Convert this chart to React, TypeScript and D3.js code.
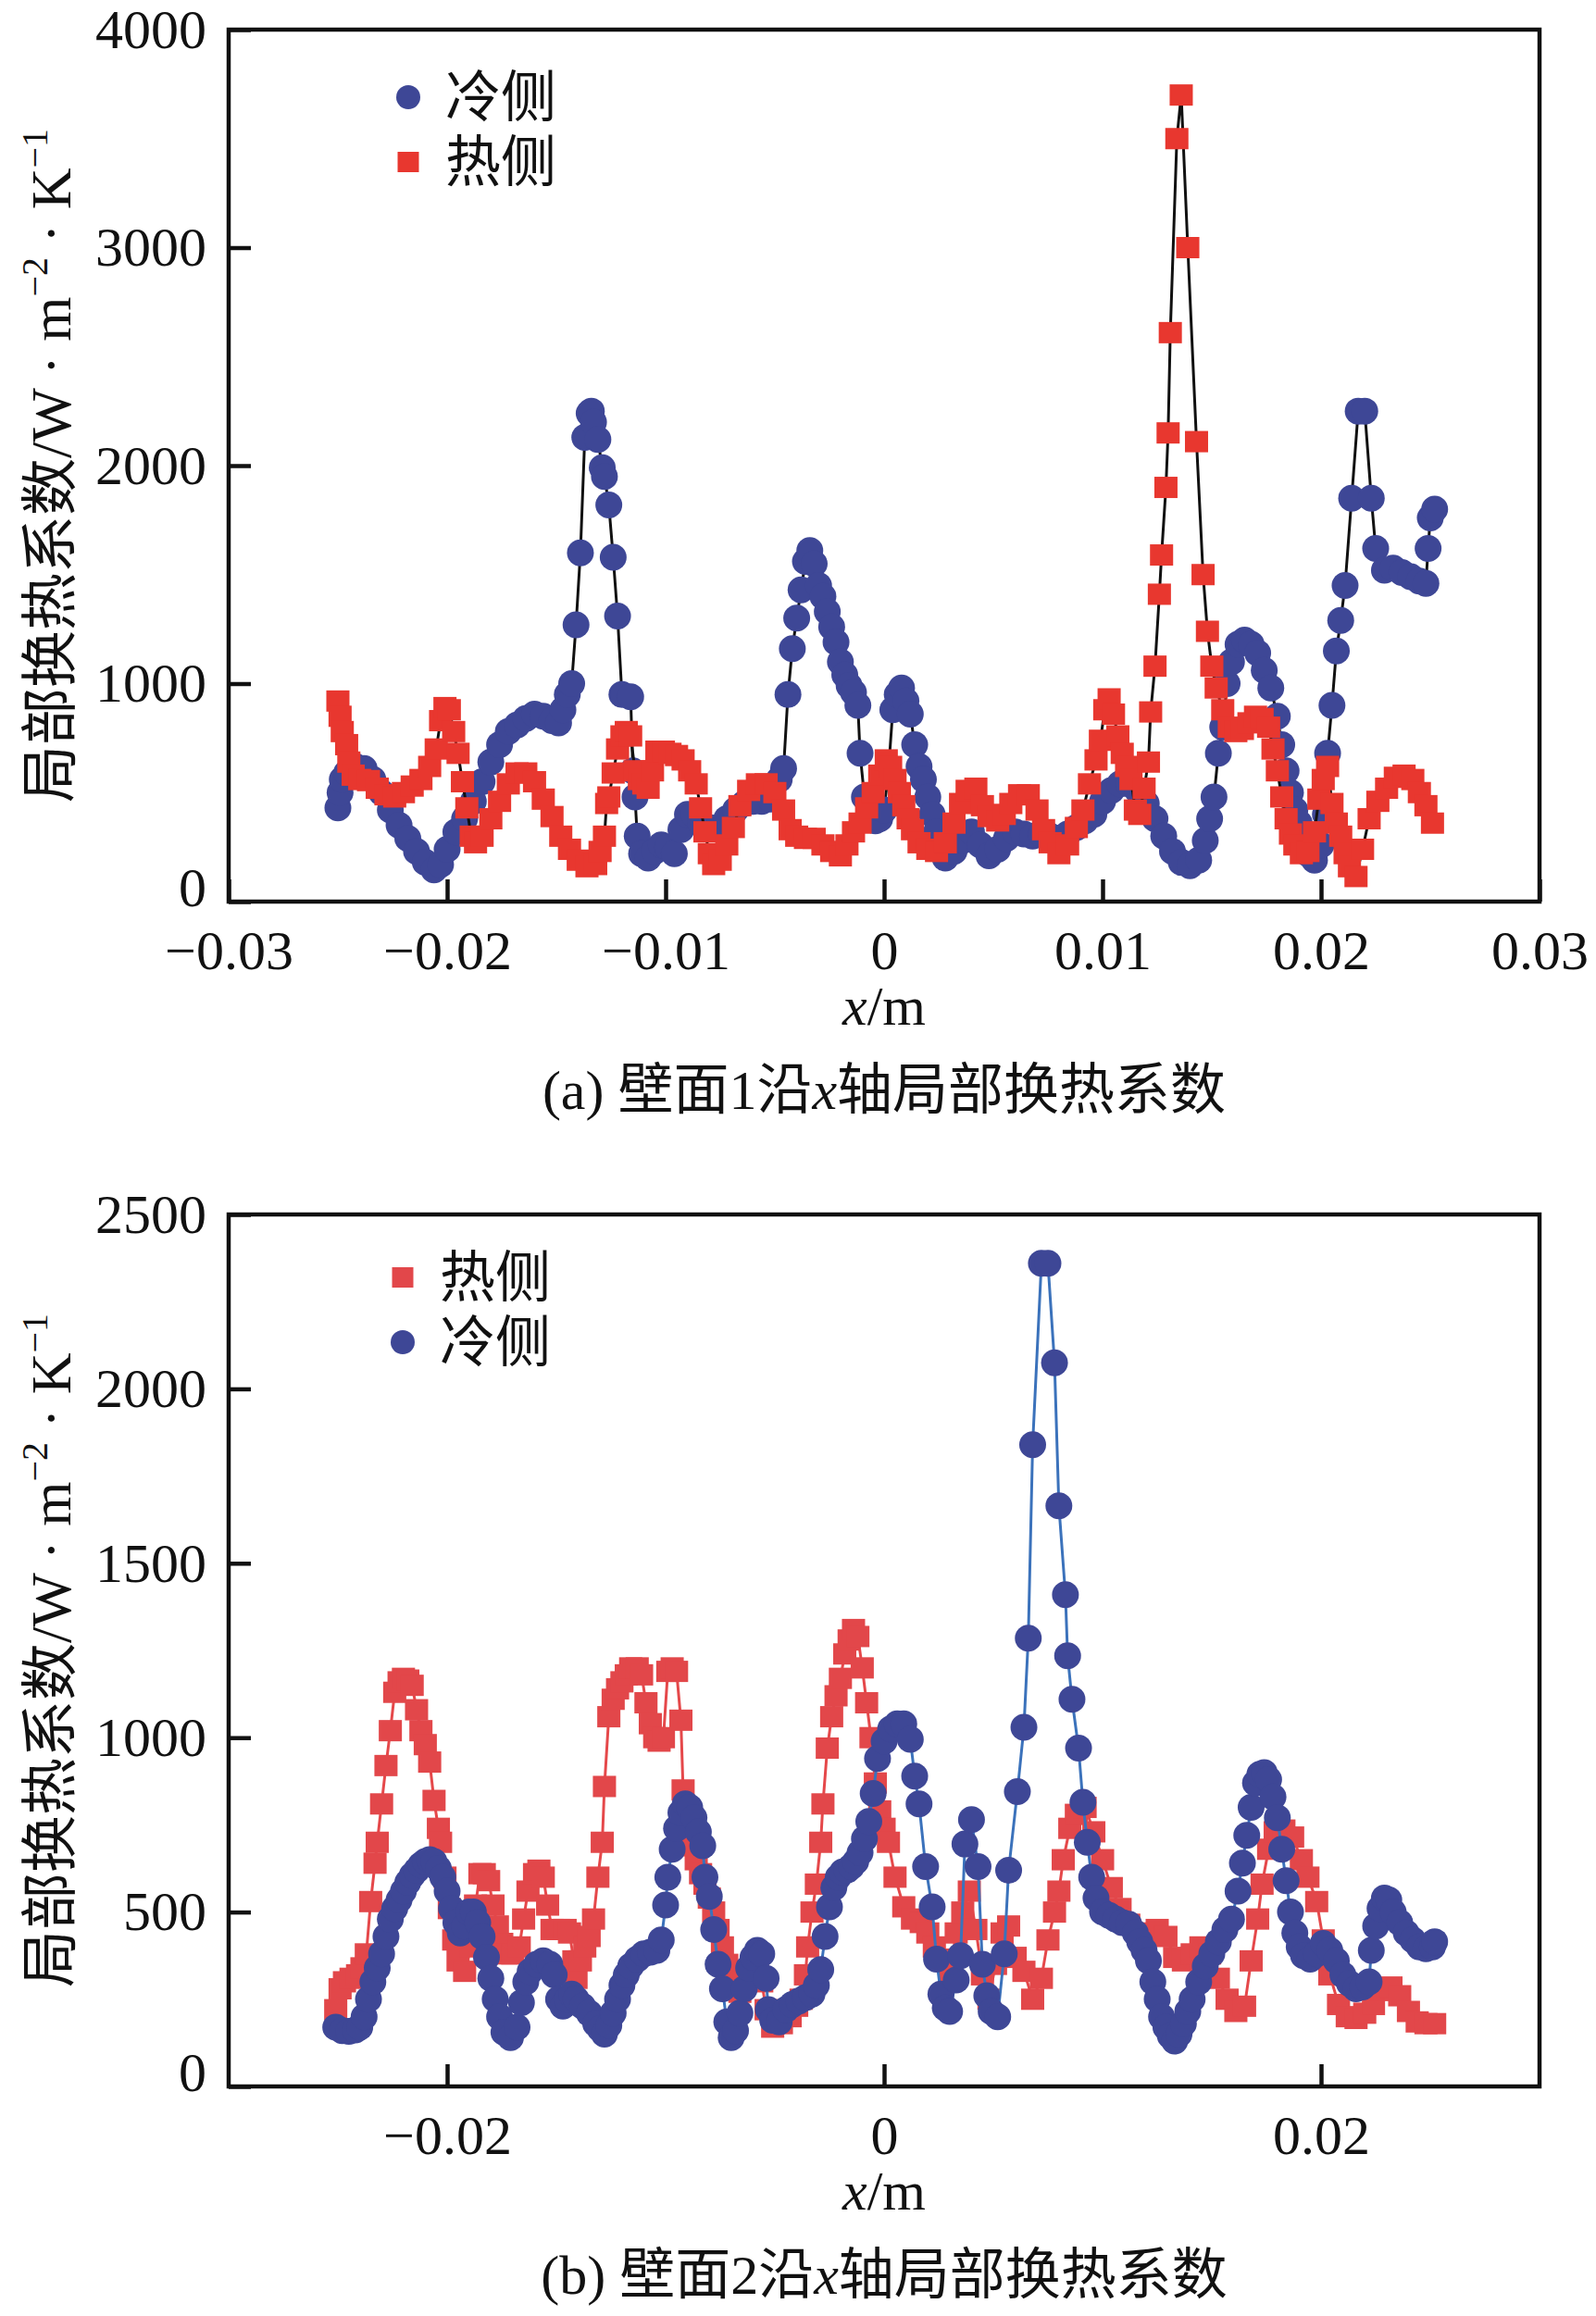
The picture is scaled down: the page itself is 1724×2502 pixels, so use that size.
import { useEffect, useRef } from 'react';
import * as d3 from 'd3';

type Pt = [number, number];

// (a) 壁面1 — 冷侧 (x/m, h/W·m⁻²·K⁻¹)
const wall1Cold: Pt[] = [
  [-0.025, 430], [-0.0249, 500], [-0.0248, 560], [-0.0246, 590], [-0.0242, 620], [-0.0238, 610],
  [-0.0234, 560], [-0.023, 500], [-0.0226, 420], [-0.0222, 350], [-0.0218, 290], [-0.0214, 230],
  [-0.021, 180], [-0.0206, 145], [-0.0203, 170], [-0.02, 240], [-0.0196, 320], [-0.0192, 380],
  [-0.0188, 460], [-0.0184, 550], [-0.018, 640], [-0.0176, 720], [-0.0172, 780], [-0.0168, 810],
  [-0.0164, 840], [-0.016, 860], [-0.0156, 850], [-0.0152, 830], [-0.0149, 820], [-0.0147, 880],
  [-0.0145, 950], [-0.0143, 1000], [-0.0141, 1270], [-0.0139, 1600], [-0.0137, 2130], [-0.0135, 2240],
  [-0.0134, 2250], [-0.0133, 2200], [-0.0131, 2120], [-0.0129, 1990], [-0.0128, 1950], [-0.0126, 1820],
  [-0.0124, 1580], [-0.0122, 1310], [-0.012, 950], [-0.0116, 940], [-0.0115, 600], [-0.0114, 480],
  [-0.0113, 300], [-0.0111, 220], [-0.0108, 200], [-0.0105, 230], [-0.0102, 260], [-0.0099, 250],
  [-0.0096, 220], [-0.0093, 330], [-0.009, 400], [-0.0087, 400], [-0.0084, 360], [-0.008, 340],
  [-0.0076, 340], [-0.0072, 380], [-0.0068, 420], [-0.0064, 450], [-0.006, 460], [-0.0056, 460],
  [-0.0052, 470], [-0.0048, 560], [-0.0046, 610], [-0.0044, 950], [-0.0042, 1160], [-0.004, 1300],
  [-0.0038, 1430], [-0.0036, 1560], [-0.0034, 1610], [-0.0032, 1550], [-0.003, 1450], [-0.0028, 1400],
  [-0.0026, 1330], [-0.0024, 1260], [-0.0022, 1190], [-0.002, 1100], [-0.0018, 1040], [-0.0016, 990],
  [-0.0014, 960], [-0.0012, 900], [-0.0011, 680], [-0.0009, 480], [-0.0007, 400], [-0.0004, 370],
  [-0.0002, 380], [0, 420], [0.0002, 600], [0.0004, 880], [0.0006, 950], [0.0008, 980],
  [0.001, 920], [0.0012, 860], [0.0014, 720], [0.0016, 620], [0.0018, 560], [0.002, 480],
  [0.0022, 400], [0.0024, 320], [0.0026, 240], [0.0028, 200], [0.0032, 230], [0.0036, 280],
  [0.004, 320], [0.0044, 260], [0.0048, 210], [0.0052, 240], [0.0056, 290], [0.006, 320],
  [0.0064, 310], [0.0068, 300], [0.0072, 310], [0.0076, 300], [0.008, 290], [0.0084, 310],
  [0.0088, 340], [0.0092, 370], [0.0096, 400], [0.01, 460], [0.0104, 510], [0.0108, 540],
  [0.0112, 540], [0.0116, 510], [0.012, 450], [0.0124, 380], [0.0128, 300], [0.0132, 230],
  [0.0136, 180], [0.014, 165], [0.0144, 190], [0.0147, 280], [0.0149, 380], [0.0151, 480],
  [0.0153, 680], [0.0155, 800], [0.0157, 1000], [0.0159, 1100], [0.0162, 1180], [0.0165, 1200],
  [0.0168, 1180], [0.0171, 1140], [0.0174, 1060], [0.0177, 980], [0.018, 850], [0.0182, 720],
  [0.0184, 600], [0.0186, 500], [0.0188, 420], [0.019, 360], [0.0192, 280], [0.0194, 220],
  [0.0197, 190], [0.02, 260], [0.0202, 400], [0.0203, 680], [0.0205, 900], [0.0207, 1150],
  [0.0209, 1290], [0.0211, 1450], [0.0214, 1850], [0.0217, 2250], [0.022, 2250], [0.0223, 1850],
  [0.0225, 1620], [0.0229, 1520], [0.0233, 1530], [0.0237, 1510], [0.0241, 1490], [0.0245, 1470],
  [0.0248, 1460], [0.0249, 1620], [0.025, 1760], [0.0252, 1800],
];

// (a) 壁面1 — 热侧
const wall1Hot: Pt[] = [
  [-0.025, 920], [-0.0249, 850], [-0.0248, 780], [-0.0246, 720], [-0.0245, 640], [-0.0243, 580],
  [-0.024, 560], [-0.0236, 555], [-0.0232, 520], [-0.0228, 490], [-0.0224, 480], [-0.022, 500],
  [-0.0216, 530], [-0.0212, 560], [-0.0208, 620], [-0.0205, 700], [-0.0203, 830], [-0.0201, 890],
  [-0.0199, 880], [-0.0197, 780], [-0.0195, 680], [-0.0193, 550], [-0.0191, 430], [-0.0189, 300],
  [-0.0187, 270], [-0.0184, 300], [-0.018, 380], [-0.0176, 460], [-0.0172, 540], [-0.0168, 590],
  [-0.0164, 590], [-0.016, 550], [-0.0156, 470], [-0.0152, 390], [-0.0148, 300], [-0.0144, 240],
  [-0.014, 190], [-0.0136, 160], [-0.0132, 170], [-0.013, 230], [-0.0128, 300], [-0.0127, 450],
  [-0.0126, 480], [-0.0124, 590], [-0.0122, 700], [-0.012, 760], [-0.0118, 780], [-0.0116, 760],
  [-0.0114, 600], [-0.0112, 560], [-0.011, 540], [-0.0108, 520], [-0.0106, 600], [-0.0104, 690],
  [-0.0101, 690], [-0.0098, 680], [-0.0095, 670], [-0.0092, 650], [-0.0089, 600], [-0.0086, 540],
  [-0.0084, 430], [-0.0082, 320], [-0.008, 220], [-0.0078, 170], [-0.0075, 190], [-0.0072, 260],
  [-0.0069, 340], [-0.0066, 440], [-0.0062, 510], [-0.0058, 540], [-0.0054, 540], [-0.005, 500],
  [-0.0046, 420], [-0.0043, 330], [-0.004, 300], [-0.0036, 290], [-0.0032, 290], [-0.0028, 260],
  [-0.0024, 230], [-0.002, 210], [-0.0017, 260], [-0.0014, 320], [-0.0011, 360], [-0.0008, 430],
  [-0.0005, 500], [-0.0002, 580], [0.0001, 650], [0.0003, 620], [0.0005, 560], [0.0007, 500],
  [0.0009, 440], [0.0011, 380], [0.0013, 330], [0.0016, 270], [0.002, 240], [0.0024, 230],
  [0.0028, 270], [0.0032, 360], [0.0035, 450], [0.0038, 510], [0.0042, 520], [0.0045, 440],
  [0.0048, 390], [0.0052, 370], [0.0055, 400], [0.0058, 450], [0.0062, 490], [0.0066, 490],
  [0.007, 420], [0.0073, 330], [0.0076, 270], [0.008, 220], [0.0084, 260], [0.0088, 340],
  [0.0091, 420], [0.0094, 540], [0.0097, 650], [0.0099, 740], [0.0101, 880], [0.0103, 930],
  [0.0105, 860], [0.0107, 760], [0.0109, 680], [0.0111, 620], [0.0113, 560], [0.0115, 420],
  [0.0117, 400], [0.0119, 520], [0.0121, 640], [0.0122, 870], [0.0124, 1080], [0.0126, 1410],
  [0.0127, 1590], [0.0129, 1900], [0.013, 2150], [0.0131, 2610], [0.0134, 3500], [0.0136, 3700],
  [0.0139, 3000], [0.0143, 2110], [0.0146, 1500], [0.0148, 1240], [0.015, 1080], [0.0152, 980],
  [0.0155, 880], [0.0158, 800], [0.0161, 780], [0.0164, 790], [0.0167, 820], [0.017, 850],
  [0.0173, 840], [0.0176, 800], [0.0178, 700], [0.018, 600], [0.0182, 480], [0.0184, 380],
  [0.0186, 310], [0.0188, 260], [0.0191, 220], [0.0194, 230], [0.0197, 320], [0.0199, 470],
  [0.0201, 560], [0.0203, 620], [0.0205, 450], [0.0207, 360], [0.0209, 300], [0.0211, 220],
  [0.0213, 160], [0.0216, 115], [0.0219, 240], [0.0222, 380], [0.0226, 460], [0.023, 520],
  [0.0234, 570], [0.0238, 580], [0.0242, 560], [0.0245, 500], [0.0248, 440], [0.0251, 360],
];

// (b) 壁面2 — 热侧
const wall2Hot: Pt[] = [
  [-0.0251, 220], [-0.0249, 280], [-0.0247, 300], [-0.0244, 310], [-0.0241, 320], [-0.0239, 340],
  [-0.0237, 380], [-0.0235, 530], [-0.0233, 640], [-0.0232, 700], [-0.023, 810], [-0.0228, 920],
  [-0.0226, 1020], [-0.0224, 1130], [-0.0222, 1160], [-0.022, 1170], [-0.0218, 1165], [-0.0216, 1150],
  [-0.0214, 1080], [-0.0212, 1020], [-0.021, 980], [-0.0208, 930], [-0.0206, 820], [-0.0204, 740],
  [-0.0203, 700], [-0.0201, 600], [-0.0199, 510], [-0.0197, 420], [-0.0195, 360], [-0.0192, 330],
  [-0.0189, 400], [-0.0187, 520], [-0.0185, 610], [-0.0183, 610], [-0.0181, 590], [-0.0179, 520],
  [-0.0177, 460], [-0.0175, 410], [-0.0173, 380], [-0.017, 380], [-0.0167, 400], [-0.0165, 480],
  [-0.0163, 560], [-0.016, 610], [-0.0158, 620], [-0.0156, 600], [-0.0154, 520], [-0.0152, 450],
  [-0.0149, 450], [-0.0146, 450], [-0.0144, 440], [-0.0142, 360], [-0.0141, 310], [-0.0139, 360],
  [-0.0137, 400], [-0.0135, 430], [-0.0133, 480], [-0.0131, 600], [-0.0129, 700], [-0.0128, 860],
  [-0.0126, 1060], [-0.0124, 1110], [-0.0122, 1140], [-0.012, 1160], [-0.0118, 1180], [-0.0116, 1200],
  [-0.0113, 1200], [-0.0111, 1180], [-0.0109, 1100], [-0.0107, 1040], [-0.0105, 1000], [-0.0103, 990],
  [-0.0101, 1000], [-0.0099, 1190], [-0.0097, 1200], [-0.0095, 1190], [-0.0093, 1050], [-0.0092, 850],
  [-0.009, 730], [-0.0088, 690], [-0.0086, 650], [-0.0084, 610], [-0.0082, 580], [-0.008, 540],
  [-0.0078, 500], [-0.0076, 450], [-0.0074, 400], [-0.0072, 350], [-0.007, 310], [-0.0068, 280],
  [-0.0066, 270], [-0.0064, 300], [-0.0062, 330], [-0.006, 360], [-0.0058, 360], [-0.0056, 300],
  [-0.0054, 220], [-0.0051, 170], [-0.0047, 180], [-0.0043, 200], [-0.004, 230], [-0.0038, 250],
  [-0.0036, 320], [-0.0035, 400], [-0.0033, 500], [-0.0031, 580], [-0.0029, 700], [-0.0028, 810],
  [-0.0026, 970], [-0.0024, 1060], [-0.0022, 1120], [-0.002, 1170], [-0.0018, 1240], [-0.0016, 1280],
  [-0.0014, 1310], [-0.0012, 1290], [-0.001, 1200], [-0.0008, 1100], [-0.0006, 1000], [-0.0004, 870],
  [-0.0002, 790], [0, 740], [0.0002, 700], [0.0005, 600], [0.0009, 515], [0.0013, 480],
  [0.0017, 470], [0.002, 440], [0.0023, 400], [0.0027, 365], [0.003, 320], [0.0033, 440],
  [0.0036, 500], [0.0039, 560], [0.0042, 450], [0.0045, 320], [0.0048, 250], [0.0051, 350],
  [0.0054, 440], [0.0057, 460], [0.006, 370], [0.0064, 330], [0.0068, 250], [0.0072, 310],
  [0.0075, 420], [0.0078, 500], [0.008, 560], [0.0082, 650], [0.0085, 740], [0.0088, 780],
  [0.0092, 800], [0.0096, 730], [0.01, 650], [0.0104, 570], [0.0108, 510], [0.0112, 465],
  [0.0117, 430], [0.0121, 440], [0.0125, 450], [0.0129, 430], [0.0133, 370], [0.0137, 360],
  [0.0141, 380], [0.0145, 400], [0.0149, 380], [0.0153, 310], [0.0157, 250], [0.0161, 215],
  [0.0165, 230], [0.0168, 360], [0.0171, 480], [0.0173, 580], [0.0176, 680], [0.0179, 730],
  [0.0183, 735], [0.0187, 715], [0.0191, 650], [0.0194, 600], [0.0198, 530], [0.0201, 420],
  [0.0204, 320], [0.0208, 235], [0.0212, 200], [0.0216, 195], [0.022, 210], [0.0224, 235],
  [0.0228, 275], [0.0232, 285], [0.0236, 260], [0.024, 215], [0.0244, 185], [0.0248, 180],
  [0.0252, 180],
];

// (b) 壁面2 — 冷侧
const wall2Cold: Pt[] = [
  [-0.0251, 170], [-0.0248, 160], [-0.0245, 158], [-0.0242, 162], [-0.024, 170], [-0.0238, 200],
  [-0.0236, 250], [-0.0234, 300], [-0.0232, 340], [-0.023, 380], [-0.0228, 430], [-0.0226, 480],
  [-0.0224, 510], [-0.0222, 535], [-0.022, 560], [-0.0218, 585], [-0.0216, 605], [-0.0214, 620],
  [-0.0212, 635], [-0.021, 645], [-0.0208, 650], [-0.0206, 645], [-0.0204, 625], [-0.0202, 600],
  [-0.02, 560], [-0.0198, 510], [-0.0196, 470], [-0.0194, 440], [-0.0192, 460], [-0.019, 500],
  [-0.0188, 500], [-0.0186, 470], [-0.0184, 430], [-0.0182, 370], [-0.018, 310], [-0.0178, 250],
  [-0.0176, 200], [-0.0174, 155], [-0.0171, 140], [-0.0168, 170], [-0.0166, 240], [-0.0164, 300],
  [-0.0162, 330], [-0.0159, 350], [-0.0156, 360], [-0.0153, 350], [-0.0151, 320], [-0.0149, 250],
  [-0.0147, 230], [-0.0145, 250], [-0.0143, 265], [-0.0141, 250], [-0.0138, 230], [-0.0135, 210],
  [-0.0132, 180], [-0.013, 165], [-0.0128, 150], [-0.0126, 175], [-0.0124, 210], [-0.0122, 250],
  [-0.012, 290], [-0.0118, 320], [-0.0116, 345], [-0.0113, 365], [-0.011, 380], [-0.0107, 385],
  [-0.0104, 390], [-0.0102, 420], [-0.01, 520], [-0.0099, 600], [-0.0097, 680], [-0.0095, 740],
  [-0.0093, 785], [-0.0091, 810], [-0.0089, 800], [-0.0087, 770], [-0.0085, 730], [-0.0083, 690],
  [-0.0082, 600], [-0.008, 545], [-0.0078, 450], [-0.0076, 350], [-0.0074, 280], [-0.0072, 185],
  [-0.007, 140], [-0.0068, 160], [-0.0066, 210], [-0.0064, 280], [-0.0062, 340], [-0.006, 370],
  [-0.0058, 390], [-0.0056, 380], [-0.0054, 310], [-0.0053, 220], [-0.0051, 190], [-0.0048, 185],
  [-0.0045, 220], [-0.0042, 235], [-0.0039, 245], [-0.0036, 255], [-0.0033, 265], [-0.0031, 290],
  [-0.0029, 335], [-0.0027, 430], [-0.0025, 515], [-0.0023, 570], [-0.0021, 600], [-0.0019, 615],
  [-0.0017, 620], [-0.0015, 630], [-0.0013, 645], [-0.0011, 670], [-0.0009, 710], [-0.0007, 760],
  [-0.0005, 840], [-0.0003, 940], [0, 990], [0.0003, 1025], [0.0006, 1040], [0.0009, 1040],
  [0.0012, 995], [0.0014, 890], [0.0016, 810], [0.0019, 630], [0.0022, 515], [0.0024, 365],
  [0.0026, 265], [0.0028, 225], [0.003, 215], [0.0033, 305], [0.0035, 375], [0.0037, 695],
  [0.004, 765], [0.0043, 630], [0.0045, 350], [0.0047, 260], [0.0049, 215], [0.0052, 200],
  [0.0055, 380], [0.0057, 620], [0.0061, 845], [0.0064, 1030], [0.0066, 1285], [0.0068, 1840],
  [0.0072, 2360], [0.0075, 2360], [0.0078, 2075], [0.008, 1665], [0.0083, 1410], [0.0084, 1235],
  [0.0086, 1110], [0.0089, 970], [0.0091, 815], [0.0093, 700], [0.0095, 600], [0.0097, 540],
  [0.01, 500], [0.0103, 490], [0.0106, 480], [0.0109, 470], [0.0112, 465], [0.0115, 440],
  [0.0117, 415], [0.0119, 390], [0.0121, 360], [0.0123, 300], [0.0125, 250], [0.0127, 200],
  [0.0129, 170], [0.0131, 145], [0.0133, 130], [0.0135, 150], [0.0137, 180], [0.0139, 215],
  [0.0141, 250], [0.0144, 300], [0.0147, 345], [0.015, 380], [0.0153, 415], [0.0156, 450],
  [0.0159, 480], [0.0162, 560], [0.0164, 640], [0.0166, 720], [0.0168, 800], [0.017, 870],
  [0.0172, 895], [0.0174, 900], [0.0176, 880], [0.0178, 830], [0.018, 770], [0.0182, 680],
  [0.0184, 590], [0.0186, 500], [0.0188, 440], [0.019, 400], [0.0192, 375], [0.0195, 365],
  [0.0198, 380], [0.0201, 410], [0.0204, 390], [0.0207, 360], [0.021, 320], [0.0213, 295],
  [0.0216, 280], [0.0219, 285], [0.0222, 300], [0.0223, 390], [0.0225, 460], [0.0227, 510],
  [0.0229, 540], [0.0231, 535], [0.0233, 500], [0.0236, 470], [0.0239, 440], [0.0242, 420],
  [0.0245, 400], [0.0248, 395], [0.0251, 400], [0.0252, 415],
];

const xDomain = [-0.03, 0.03];
const wall1XTicks = [-0.03, -0.02, -0.01, 0, 0.01, 0.02, 0.03];
const wall1YTicks = [0, 1000, 2000, 3000, 4000];
const wall2XTicks = [-0.02, 0, 0.02];
const wall2YTicks = [0, 500, 1000, 1500, 2000, 2500];

const W = 1724;
const H = 2502;
const LATIN = "'Liberation Serif', 'Times New Roman', serif";
const CJK = "'Liberation Serif', 'Noto Sans CJK SC', serif";

const BLUE = '#3e4796';
const RED_A = '#e8372f';
const RED_B = '#e2474a';

interface Series {
  data: Pt[];
  shape: 'circle' | 'square';
  fill: string;
  line: string;
}

interface Panel {
  top: number;
  bottom: number;
  yMax: number;
  xTicks: number[];
  yTicks: number[];
  series: Series[];
  legend: { label: string; shape: 'circle' | 'square'; fill: string }[];
  tag: string;
}

const panels: Panel[] = [
  {
    top: 32,
    bottom: 974,
    yMax: 4000,
    xTicks: wall1XTicks,
    yTicks: wall1YTicks,
    series: [
      { data: wall1Cold, shape: 'circle', fill: BLUE, line: '#111' },
      { data: wall1Hot, shape: 'square', fill: RED_A, line: '#111' },
    ],
    legend: [
      { label: '冷侧', shape: 'circle', fill: BLUE },
      { label: '热侧', shape: 'square', fill: RED_A },
    ],
    tag: '1',
  },
  {
    top: 1312,
    bottom: 2254,
    yMax: 2500,
    xTicks: wall2XTicks,
    yTicks: wall2YTicks,
    series: [
      { data: wall2Hot, shape: 'square', fill: RED_B, line: '#e5484a' },
      { data: wall2Cold, shape: 'circle', fill: BLUE, line: '#3b72bb' },
    ],
    legend: [
      { label: '热侧', shape: 'square', fill: RED_B },
      { label: '冷侧', shape: 'circle', fill: BLUE },
    ],
    tag: '2',
  },
];

const R = 14.5; // Kreisradius
const SQ_W = 25;
const SQ_H = 23;

export default function App() {
  const svgRef = useRef<SVGSVGElement>(null);

  useEffect(() => {
    if (!svgRef.current) return;
    const svg = d3.select(svgRef.current);
    svg.selectAll('*').remove();
    svg.append('rect').attr('width', W).attr('height', H).attr('fill', '#fff');

    const left = 247;
    const right = 1663;
    const x = d3.scaleLinear().domain(xDomain).range([left, right]);
    const fmt = (d: d3.NumberValue) => (+d === 0 ? '0' : d3.format('.2f')(+d));

    panels.forEach((p, pi) => {
      const y = d3.scaleLinear().domain([0, p.yMax]).range([p.bottom, p.top]);
      const g = svg.append('g');

      // Kurven
      p.series.forEach((s) => {
        const line = d3
          .line<Pt>()
          .x((d) => x(d[0]))
          .y((d) => y(d[1]));
        g.append('path')
          .attr('d', line(s.data))
          .attr('fill', 'none')
          .attr('stroke', s.line)
          .attr('stroke-width', 3);
        if (s.shape === 'circle') {
          g.selectAll(null)
            .data(s.data)
            .enter()
            .append('circle')
            .attr('cx', (d) => x(d[0]))
            .attr('cy', (d) => y(d[1]))
            .attr('r', R)
            .attr('fill', s.fill);
        } else {
          g.selectAll(null)
            .data(s.data)
            .enter()
            .append('rect')
            .attr('x', (d) => x(d[0]) - SQ_W / 2)
            .attr('y', (d) => y(d[1]) - SQ_H / 2)
            .attr('width', SQ_W)
            .attr('height', SQ_H)
            .attr('fill', s.fill);
        }
      });

      // Rahmen
      g.append('rect')
        .attr('x', left)
        .attr('y', p.top)
        .attr('width', right - left)
        .attr('height', p.bottom - p.top)
        .attr('fill', 'none')
        .attr('stroke', '#111')
        .attr('stroke-width', 4.5);

      // Achsen
      const xa = g
        .append('g')
        .attr('transform', `translate(0,${p.bottom})`)
        .call(d3.axisBottom(x).tickValues(p.xTicks).tickSizeInner(-24).tickSizeOuter(0).tickPadding(30).tickFormat(fmt));
      const ya = g
        .append('g')
        .attr('transform', `translate(${left},0)`)
        .call(d3.axisLeft(y).tickValues(p.yTicks).tickSizeInner(-24).tickSizeOuter(0).tickPadding(24).tickFormat(d3.format('d')));
      [xa, ya].forEach((a) => {
        a.select('.domain').remove();
        a.selectAll('.tick line').attr('stroke', '#111').attr('stroke-width', 4.5);
        a.selectAll('text').attr('fill', '#111').style('font-family', LATIN).style('font-size', '60px');
      });
      // "0" sitzt knapp über den x-Beschriftungen
      ya.selectAll<SVGTextElement, number>('text').filter((d) => d === 0).attr('dy', '0.08em');

      // x-Beschriftung
      const xl = g
        .append('text')
        .attr('x', (left + right) / 2)
        .attr('y', p.bottom + 133)
        .attr('text-anchor', 'middle')
        .style('font-family', LATIN)
        .style('font-size', '60px')
        .attr('fill', '#111');
      xl.append('tspan').style('font-style', 'italic').text('x');
      xl.append('tspan').text('/m');

      // Bildunterschrift
      const cap = g
        .append('text')
        .attr('x', (left + right) / 2)
        .attr('y', p.bottom + 224)
        .attr('text-anchor', 'middle')
        .style('font-family', CJK)
        .style('font-size', '60px')
        .attr('fill', '#111');
      cap.append('tspan').text(`(${pi === 0 ? 'a' : 'b'}) 壁面${p.tag}沿`);
      cap.append('tspan').style('font-style', 'italic').text('x');
      cap.append('tspan').text('轴局部换热系数');

      // y-Beschriftung
      const yl = g
        .append('text')
        .attr('transform', `translate(76,${(p.top + p.bottom) / 2}) rotate(-90)`)
        .attr('text-anchor', 'middle')
        .style('font-family', CJK)
        .style('font-size', '62px')
        .attr('fill', '#111');
      yl.append('tspan').text('局部换热系数/W · m');
      yl.append('tspan').attr('dy', -25).style('font-size', '40px').text('−2');
      yl.append('tspan').attr('dy', 25).text(' · K');
      yl.append('tspan').attr('dy', -25).style('font-size', '40px').text('−1');

      // Legende
      p.legend.forEach((l, i) => {
        const cy = p.top + (pi === 0 ? 73 : 68) + i * 70;
        const mx = pi === 0 ? 441 : 435;
        if (l.shape === 'circle') {
          g.append('circle').attr('cx', mx).attr('cy', cy).attr('r', 13).attr('fill', l.fill);
        } else {
          g.append('rect').attr('x', mx - 11.5).attr('y', cy - 11).attr('width', 23).attr('height', 22).attr('fill', l.fill);
        }
        g.append('text')
          .attr('x', mx + 40)
          .attr('y', cy + 21)
          .style('font-family', CJK)
          .style('font-size', '60px')
          .attr('fill', '#111')
          .text(l.label);
      });
    });
  }, []);

  return (
    <svg
      ref={svgRef}
      width={W}
      height={H}
      style={{ position: 'absolute', left: 0, top: 0, display: 'block' }}
    />
  );
}
